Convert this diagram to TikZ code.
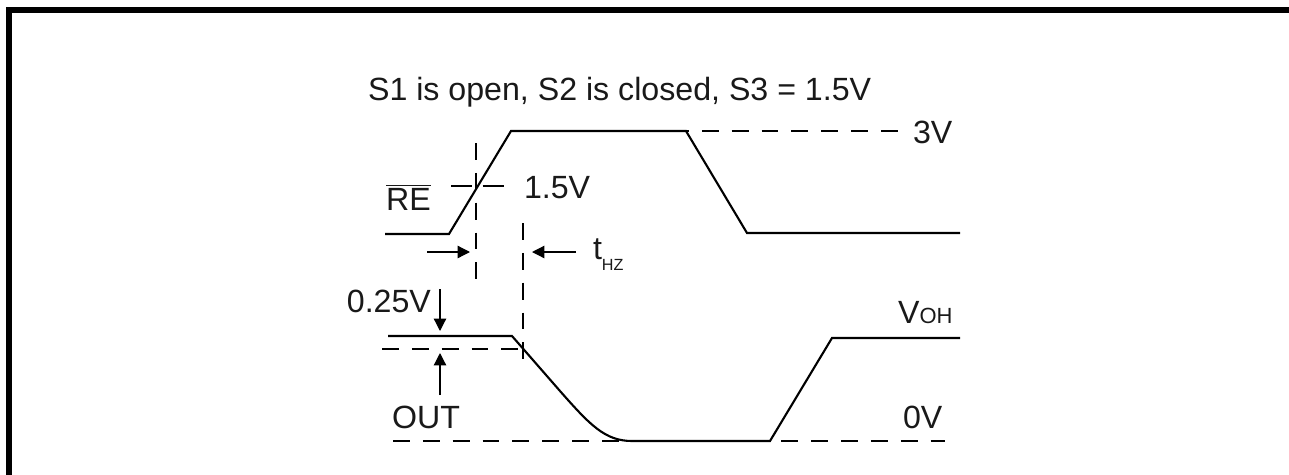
\documentclass[tikz,border=0pt]{standalone}
\usepackage{fontspec}
\setmainfont{Liberation Sans}
\usetikzlibrary{arrows.meta}

\begin{document}
\begin{tikzpicture}[x=0.02cm,y=-0.02cm,line width=1.2pt,
    guide/.style={dash pattern=on 9.6pt off 7.4pt},
    cross/.style={dash pattern=on 12pt off 6pt},
    pointer/.style={line width=0.7pt,-{Triangle[length=7pt,width=7pt]}}]
            \useasboundingbox (0,0) rectangle (1289,474);
            \draw[line width=0.12cm,line join=miter] (9,480) -- (9,10) -- (1295,10);
            \begin{scope}[every node/.style={inner sep=0pt,text=black!90,font=\fontsize{18.3}{20}\selectfont}]
                \node[anchor=base west] (title) at (367,100) {S1 is open, S2 is closed, S3 = 1.5V};
                \node[anchor=base west] (half) at (523,198) {1.5V};
                \node[anchor=base west] (re) at (385,210) {$\overline{\hbox{RE}}$};
                \node[anchor=base west] (thz) at (592,259) {t\raisebox{-6.8pt}{\fontsize{9.2}{10}\selectfont HZ}};
                \node[anchor=base east] (quarter) at (432,312) {0.25V};
                \node[anchor=base west] (out) at (391,428) {OUT};
                \node[anchor=base west] (three) at (912,143) {3V};
                \node[anchor=base west] (voh) at (897,323) {V{\fontsize{12.5}{14}\selectfont OH}};
                \node[anchor=base west] (zero) at (902,428) {0V};
            \end{scope}
            % RE input
            \coordinate (re0) at (385,234);
            \coordinate (re1) at (449,234);
            \coordinate (re2) at (511,131);
            \coordinate (re3) at (686,131);
            \coordinate (re4) at (747,233);
            \coordinate (re5) at (960,233);
            \coordinate (re6) at (898,131);
            \draw (re0) -- (re1) -- (re2) -- (re3) -- (re4) -- (re5);
            \draw[guide,dash phase=8pt] (re3) -- (re6);
            % output
            \coordinate (o0) at (388,336);
            \coordinate (o1) at (512,336);
            \coordinate (o2) at (560,391);
            \coordinate (o3) at (632,441);
            \coordinate (o4) at (770,441);
            \coordinate (o5) at (832,338);
            \coordinate (o6) at (960,338);
            \draw (o0) -- (o1) -- (o2) .. controls (590,425) and (605,441) .. (o3) -- (o4) -- (o5) -- (o6);
            \coordinate (l0a) at (382,349);
            \coordinate (l0b) at (530,349);
            \coordinate (z0a) at (393,441);
            \coordinate (z0b) at (945,441);
            \draw[guide] (l0a) -- (l0b);
            \draw[guide] (z0a) -- (z0b);
            % timing marks
            \coordinate (m1a) at (476,143);
            \coordinate (m1b) at (476,285);
            \coordinate (m2a) at (523,223);
            \coordinate (m2b) at (523,363);
            \coordinate (h1a) at (451,186);
            \coordinate (h1b) at (504,186);
            \draw[guide] (m1a) -- (m1b);
            \draw[guide] (m2a) -- (m2b);
            \draw[cross] (h1a) -- (h1b);
            % arrows
            \coordinate (a1) at (427,252);
            \coordinate (a1t) at (470,252);
            \coordinate (a2) at (576,252);
            \coordinate (a2t) at (532,252);
            \coordinate (a3) at (440,289);
            \coordinate (a3t) at (440,331);
            \coordinate (a4) at (440,395);
            \coordinate (a4t) at (440,353);
            \draw[pointer] (a1) -- (a1t);
            \draw[pointer] (a2) -- (a2t);
            \draw[pointer] (a3) -- (a3t);
            \draw[pointer] (a4) -- (a4t);
        \end{tikzpicture}
\end{document}
